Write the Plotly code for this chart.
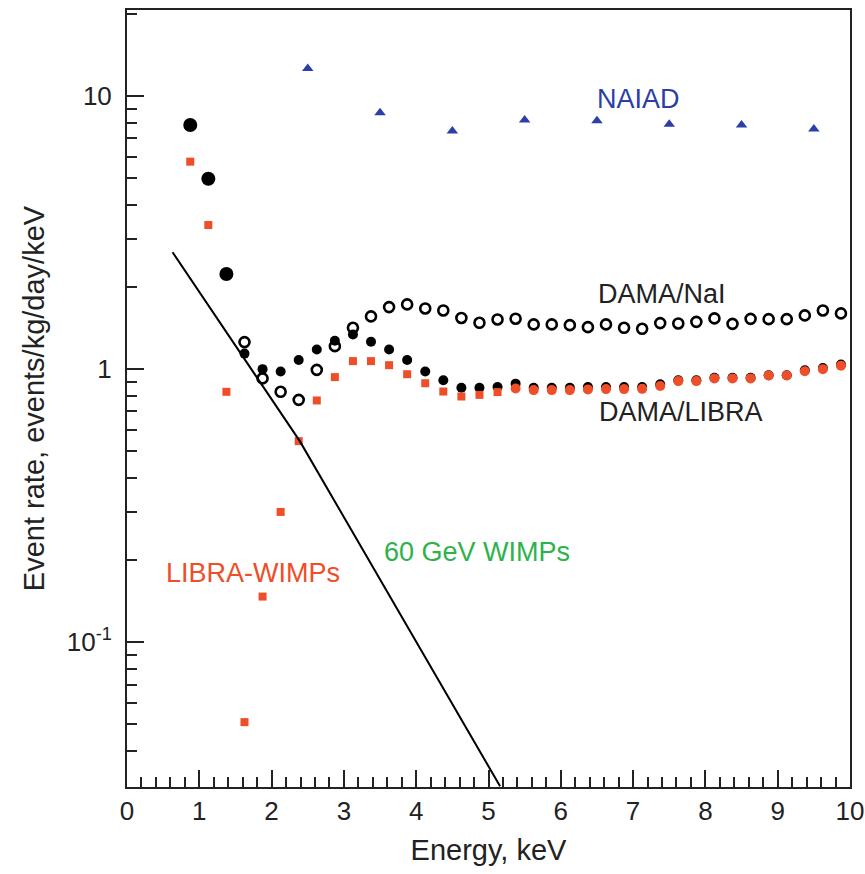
import plotly.graph_objects as go

# ---------------- data ----------------
naiad_E = [2.5, 3.5, 4.5, 5.5, 6.5, 7.5, 8.5, 9.5]
naiad_rate = [12.6, 8.69, 7.45, 8.17, 8.12, 7.89, 7.83, 7.57]

libra_low_E = [0.875, 1.125, 1.375]
libra_low_rate = [7.83, 4.98, 2.23]

libra_E = [1.625, 1.875, 2.125, 2.375, 2.625, 2.875, 3.125, 3.375, 3.625, 3.875,
           4.125, 4.375, 4.625, 4.875, 5.125, 5.375, 5.625, 5.875, 6.125, 6.375,
           6.625, 6.875, 7.125, 7.375, 7.625, 7.875, 8.125, 8.375, 8.625, 8.875,
           9.125, 9.375, 9.625, 9.875]
libra_rate = [1.14, 1.00, 0.98, 1.08, 1.18, 1.27, 1.34, 1.26, 1.18, 1.08,
              0.98, 0.91, 0.855, 0.855, 0.86, 0.885, 0.855, 0.855, 0.855, 0.86,
              0.86, 0.86, 0.86, 0.88, 0.91, 0.91, 0.93, 0.93, 0.93, 0.95,
              0.95, 0.99, 1.01, 1.04]

nai_E = libra_E
nai_rate = [1.256, 0.925, 0.826, 0.772, 0.994, 1.214, 1.417, 1.56, 1.687, 1.726,
            1.668, 1.64, 1.54, 1.478, 1.52, 1.53, 1.458, 1.458, 1.449, 1.425,
            1.458, 1.417, 1.405, 1.474, 1.470, 1.49, 1.534, 1.465, 1.528, 1.524,
            1.524, 1.573, 1.64, 1.60]

wimp_sq_E = [0.875, 1.125, 1.375, 1.625, 1.875, 2.125, 2.375, 2.625, 2.875, 3.125,
             3.375, 3.625, 3.875, 4.125, 4.375, 4.625, 4.875, 5.125]
wimp_sq_rate = [5.75, 3.37, 0.826, 0.051, 0.147, 0.30, 0.545, 0.768, 0.935, 1.07,
                1.07, 1.034, 0.958, 0.888, 0.828, 0.794, 0.805, 0.824]

red_circ_E = [5.375, 5.625, 5.875, 6.125, 6.375, 6.625, 6.875, 7.125, 7.375, 7.625,
              7.875, 8.125, 8.375, 8.625, 8.875, 9.125, 9.375, 9.625, 9.875]
red_circ_rate = [0.85, 0.838, 0.838, 0.838, 0.843, 0.845, 0.845, 0.847, 0.867, 0.904,
                 0.904, 0.925, 0.925, 0.925, 0.948, 0.948, 0.983, 1.0, 1.03]

line_E = [0.63, 2.39, 5.16]
line_rate = [2.68, 0.545, 0.0297]

y_tickvals = [0.1, 1, 10]
y_ticktext = ["10<sup>-1</sup>", "1", "10"]
x_tickvals = [0, 1, 2, 3, 4, 5, 6, 7, 8, 9, 10]

# label positions: (energy, log10 rate)
labels = [
    ("NAIAD", 7.08, 0.99, "blue"),
    ("DAMA/NaI", 7.40, 0.275, "dark"),
    ("DAMA/LIBRA", 7.66, -0.1575, "dark"),
    ("LIBRA-WIMPs", 1.74, -0.747, "red"),
    ("60 GeV WIMPs", 4.84, -0.670, "green"),
]

# ---------------- styles ----------------
RED = "#EE4E28"
BLUE = "#2B3FA6"
GREEN = "#2DB34A"
DARK = "#222222"
COLORS = {"blue": BLUE, "dark": DARK, "red": RED, "green": GREEN}
FONT = "Liberation Sans, Arial, Helvetica, sans-serif"

fig = go.Figure()

fig.add_trace(go.Scatter(x=libra_low_E, y=libra_low_rate, mode="markers",
                         marker=dict(symbol="circle", size=14, color="black"),
                         showlegend=False))
fig.add_trace(go.Scatter(x=libra_E, y=libra_rate, mode="markers",
                         marker=dict(symbol="circle", size=10, color="black"),
                         showlegend=False))
fig.add_trace(go.Scatter(x=nai_E, y=nai_rate, mode="markers",
                         marker=dict(symbol="circle-open", size=10, color="black",
                                     line=dict(width=2.6, color="black")),
                         showlegend=False))
fig.add_trace(go.Scatter(x=wimp_sq_E, y=wimp_sq_rate, mode="markers",
                         marker=dict(symbol="square", size=8, color=RED),
                         showlegend=False))
fig.add_trace(go.Scatter(x=red_circ_E, y=red_circ_rate, mode="markers",
                         marker=dict(symbol="circle", size=10, color=RED),
                         showlegend=False))
fig.add_trace(go.Scatter(x=naiad_E, y=naiad_rate, mode="markers",
                         marker=dict(symbol="triangle-up", size=10, color=BLUE),
                         showlegend=False))
fig.add_trace(go.Scatter(x=line_E, y=line_rate, mode="lines",
                         line=dict(color="black", width=2),
                         showlegend=False))

for text, lx, ly, c in labels:
    fig.add_annotation(x=lx, y=ly, text=text, showarrow=False,
                       font=dict(size=27, color=COLORS[c], family=FONT))

fig.update_layout(
    width=865, height=874,
    margin=dict(l=127, r=15, t=10, b=87),
    paper_bgcolor="white", plot_bgcolor="white",
    font=dict(family=FONT, color=DARK, size=26),
    xaxis=dict(
        range=[0, 10], showgrid=False, zeroline=False, automargin=False,
        showline=True, linecolor=DARK, linewidth=2, mirror=True,
        ticks="inside", ticklen=17, tickwidth=2, tickcolor=DARK,
        tickvals=x_tickvals, tickfont=dict(size=26),
        minor=dict(ticks="inside", ticklen=10, tickwidth=2, tickcolor=DARK,
                   dtick=0.2, tick0=0, showgrid=False),
        title=dict(text="Energy, keV", font=dict(size=29), standoff=14),
    ),
    yaxis=dict(
        type="log", range=[-1.53, 1.315], showgrid=False, zeroline=False,
        automargin=False,
        showline=True, linecolor=DARK, linewidth=2, mirror=True,
        ticks="inside", ticklen=17, tickwidth=2, tickcolor=DARK,
        tickvals=y_tickvals, ticktext=y_ticktext, tickfont=dict(size=26),
        ticklabelstandoff=8,
        minor=dict(ticks="inside", ticklen=10, tickwidth=2, tickcolor=DARK,
                   tickvals=[0.04, 0.05, 0.06, 0.07, 0.08, 0.09,
                             0.2, 0.3, 0.4, 0.5, 0.6, 0.7, 0.8, 0.9,
                             2, 3, 4, 5, 6, 7, 8, 9, 20],
                   showgrid=False),
        title=dict(text="Event rate, events/kg/day/keV", font=dict(size=29), standoff=14),
    ),
)

fig.write_html("out.html")
